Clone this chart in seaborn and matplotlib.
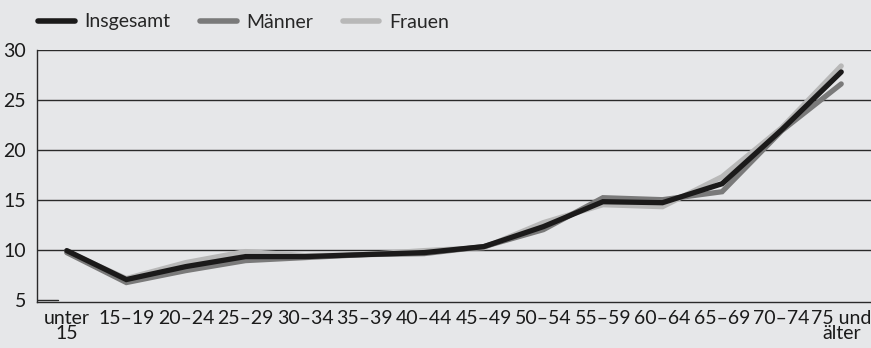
import matplotlib
matplotlib.use("Agg")
import matplotlib.pyplot as plt
import seaborn as sns
import pandas as pd
import numpy as np
from matplotlib.lines import Line2D

categories = ["unter\n15", "15–19", "20–24", "25–29", "30–34", "35–39", "40–44",
              "45–49", "50–54", "55–59", "60–64", "65–69", "70–74", "75 und\nälter"]
insgesamt = [9.9, 7.0, 8.3, 9.3, 9.3, 9.5, 9.7, 10.3, 12.3, 14.8, 14.7, 16.6, 22.0, 27.8]
maenner = [9.7, 6.7, 7.9, 8.9, 9.2, 9.5, 9.6, 10.3, 12.0, 15.2, 15.0, 15.8, 21.9, 26.6]
frauen = [9.8, 7.1, 8.7, 9.8, 9.4, 9.5, 9.9, 10.2, 12.7, 14.5, 14.3, 17.3, 22.2, 28.4]
series_names = ["Insgesamt", "Männer", "Frauen"]
yticks = [5, 10, 15, 20, 25, 30]

bg = "#e6e7e9"
sns.set_theme(style="white")
plt.rcParams['font.family'] = ['Lato', 'DejaVu Sans']
FS = 14

df = pd.concat([
    pd.DataFrame({"x": np.arange(len(categories)), "v": vals, "s": name})
    for name, vals in zip(series_names, [insgesamt, maenner, frauen])
])

fig = plt.figure(figsize=(8.71, 3.48), dpi=100, facecolor=bg)
ax = fig.add_axes([37/871, 1-302/348, 1-37/871, (302-50)/348])
ax.set_facecolor(bg)

for yv in [10, 15, 20, 25, 30]:
    ax.axhline(yv, color="#2a2a2a", lw=1.0, zorder=1)
ax.axhline(5, xmin=0, xmax=0.025, color="#2a2a2a", lw=1.0, zorder=1)

palette = {"Insgesamt": "#1b1a1a", "Männer": "#7a7a7a", "Frauen": "#b8b8b8"}
order_draw = ["Frauen", "Männer", "Insgesamt"]
for name in order_draw:
    sub = df[df.s == name]
    sns.lineplot(data=sub, x="x", y="v", color=palette[name], lw=3.8,
                 ax=ax, zorder=3 if name == "Insgesamt" else 2,
                 legend=False, solid_joinstyle="miter")

ax.set_xlim(-0.5, len(categories) - 0.5)
ax.set_ylim(4.75, 30)
ax.set_yticks(yticks)
ax.set_yticklabels([str(t) for t in yticks], fontsize=FS, color="#1a1a1a")
ax.set_xticks(np.arange(len(categories)))
ax.set_xticklabels(categories, fontsize=FS, color="#1a1a1a", linespacing=0.8)
ax.set_xticks(np.arange(len(categories) + 1) - 0.5, minor=True)
ax.tick_params(axis="x", which="major", length=0, pad=6)
ax.tick_params(axis="x", which="minor", length=5, width=1, color="#2a2a2a", direction="out")
ax.tick_params(axis="y", length=0, pad=8)
ax.set_xlabel("")
ax.set_ylabel("")
for sp in ["top", "right"]:
    ax.spines[sp].set_visible(False)
for sp in ["left", "bottom"]:
    ax.spines[sp].set_color("#2a2a2a")
    ax.spines[sp].set_linewidth(1.0)

handles = [Line2D([0], [0], color=palette[n], lw=4, solid_capstyle="round") for n in series_names]
ax.legend(handles, series_names, loc="center left",
          bbox_to_anchor=(38/871, 1-22/348), bbox_transform=fig.transFigure,
          ncol=3, frameon=False, fontsize=FS, handlelength=1.9,
          handletextpad=0.5, columnspacing=1.5, borderaxespad=0, borderpad=0)

fig.savefig("out.png", dpi=100, facecolor=bg)
